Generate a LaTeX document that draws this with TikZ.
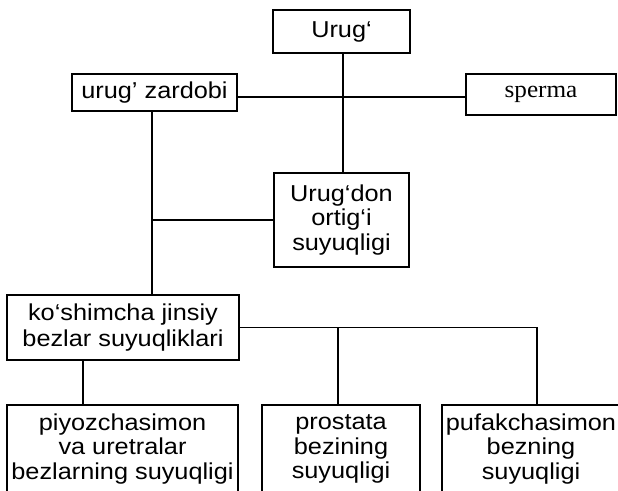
\documentclass[tikz,border=0pt]{standalone}
\usepackage{fontspec}
\setmainfont{Liberation Sans}[FakeStretch=1.1]
\newfontfamily\spermafont{Liberation Serif}[FakeStretch=1.05]
\begin{document}
\begin{tikzpicture}[x=1pt,y=-1pt,
  box/.style={draw=black,line width=1.2pt,inner sep=0pt,align=center,
    font=\fontsize{23}{24.5}\selectfont},
  link/.style={draw=black,line width=1.2pt}]
\useasboundingbox (0,0) rectangle (618,490);
\clip (0,0) rectangle (618,490);
\fill[white] (0,0) rectangle (618,490);
% nodes
\node[box,minimum width=137pt,minimum height=43pt] (urug) at (341.5,31.5) {Urug‘};
\node[box,minimum width=165pt,minimum height=37pt] (zardobi) at (154.5,92.5) {urug’ zardobi};
\node[box,minimum width=150pt,minimum height=41pt,font=\spermafont\fontsize{24}{24}\selectfont] (sperma) at (541,94.5) {sperma};
\node[box,minimum width=135pt,minimum height=94pt] (urugdon) at (341.5,220) {Urug‘don\\ortig‘i\\suyuqligi};
\node[box,minimum width=232pt,minimum height=65pt,font=\fontsize{23}{26}\selectfont] (koshimcha) at (123,327.5) {ko‘shimcha jinsiy\\bezlar suyuqliklari};
\node[box,minimum width=231pt,minimum height=88pt] (b1) at (122.5,449) {piyozchasimon\\va uretralar\\bezlarning suyuqligi};
\node[box,minimum width=158pt,minimum height=88pt] (b2) at (341,449) {prostata\\bezining\\suyuqligi};
\node[box,minimum width=178pt,minimum height=88pt] (b3) at (531,449) {pufakchasimon\\bezning\\suyuqligi};
% helper coordinates
\coordinate (zr) at ([yshift=-4.5pt]zardobi.east);
\coordinate (zs) at ([xshift=-2.5pt]zardobi.south);
\coordinate (us) at ([xshift=1.5pt]urug.south);
\coordinate (k1) at ([xshift=-40pt]koshimcha.south);
\coordinate (b3t) at ([xshift=6pt]b3.north);
\coordinate (b2t) at ([xshift=-3pt]b2.north);
% connectors
\draw[link] (us) -- (us |- urugdon.north);
\draw[link] (zr) -- (zr -| sperma.west);
\draw[link] (zs) -- (zs |- koshimcha.north);
\draw[link] (urugdon.west) -- (urugdon.west -| zs);
\draw[link] (koshimcha.east) -- (koshimcha.east -| b3t) -- (b3t);
\draw[link] (koshimcha.east -| b2t) -- (b2t);
\draw[link] (k1) -- (k1 |- b1.north);
\end{tikzpicture}
\end{document}
